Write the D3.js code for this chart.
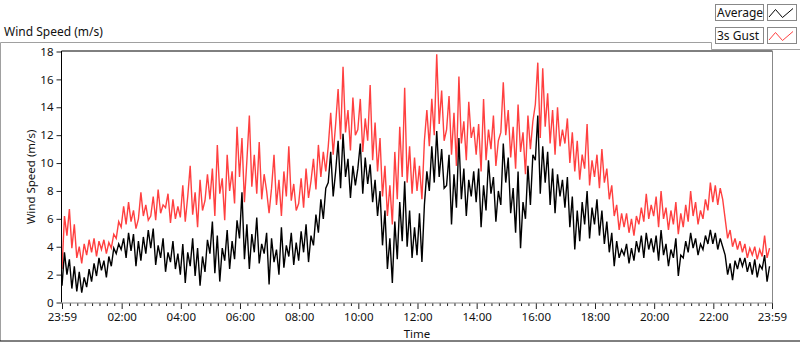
<!DOCTYPE html>
<meta charset="utf-8">
<style>
    body { margin: 0; background: #fff; }
    text { font-family: "Noto Sans", sans-serif; fill: #111; }
    .tick text { font-size: 11.5px; }
    .tick line { stroke: #222; }
    .frame-dark { stroke: #000; }
    .frame-light { stroke: #888; }
</style>
<svg id="chart" width="800" height="342"></svg>
<script src="https://cdnjs.cloudflare.com/ajax/libs/d3/7.8.5/d3.min.js"></script>
<script>

    // 5 minute samples, one row per hour starting 23:59
    var gust = [
        2.4, 6.2, 4.8, 6.7, 3.9, 5.6, 3.2, 4.0, 2.8, 4.2, 3.4, 4.5,
        3.6, 4.6, 3.3, 4.4, 3.8, 4.5, 3.5, 4.3, 3.9, 4.9, 4.6, 5.8,
        5.4, 6.9, 5.6, 7.2, 5.8, 6.6, 5.3, 6.0, 7.9, 6.2, 7.0, 5.9,
        6.2, 7.6, 5.9, 8.1, 6.4, 7.0, 6.8, 7.8, 5.7, 7.4, 6.0, 6.9,
        6.1, 8.4, 5.8, 7.6, 9.8, 6.3, 7.9, 5.4, 8.8, 6.6, 7.3, 9.2,
        7.4, 9.6, 6.2, 11.3, 7.8, 8.9, 5.9, 10.6, 8.0, 9.4, 7.1, 12.6,
        9.0, 11.8, 7.2, 10.2, 13.4, 8.3, 10.6, 7.8, 11.5, 7.4, 9.2, 8.0,
        6.4, 8.2, 10.6, 7.0, 8.8, 6.2, 9.4, 7.6, 11.2, 7.3, 8.5, 6.6,
        7.1, 8.9, 6.8, 9.6, 7.5, 8.7, 10.3, 8.1, 11.3, 9.0, 10.8, 9.4,
        11.2, 13.6, 10.6, 12.8, 15.3, 11.7, 16.9, 12.2, 13.8, 10.9, 14.7, 12.0,
        12.4, 14.6, 10.8, 13.2, 11.6, 15.6, 10.2, 12.9, 9.4, 11.8, 7.6, 9.8,
        6.2, 8.4, 5.6, 10.8, 7.4, 12.6, 9.0, 15.4, 8.6, 11.2, 7.8, 10.4,
        8.0, 9.8, 7.4, 11.6, 13.8, 11.2, 14.6, 12.0, 17.8, 12.8, 15.2, 11.6,
        12.4, 14.8, 10.6, 13.6, 9.8, 16.2, 11.4, 13.0, 10.2, 14.4, 11.8, 12.6,
        10.6, 12.8, 9.4, 14.6, 10.2, 12.4, 11.0, 13.4, 9.8, 11.6, 12.2, 15.8,
        12.0, 13.8, 10.4, 12.6, 9.6, 14.2, 10.8, 12.2, 9.2, 13.4, 11.0, 13.0,
        14.2, 17.2, 11.8, 16.8, 12.6, 15.0, 11.4, 13.8, 10.6, 14.0, 11.2, 12.4,
        11.4, 13.2, 10.0, 12.2, 9.4, 11.6, 8.8, 10.6, 9.6, 12.8, 8.4, 10.2,
        9.0, 10.6, 8.2, 11.0, 8.6, 9.6, 7.4, 8.4, 6.2, 7.0, 5.2, 6.4,
        5.4, 6.4, 5.0, 6.0, 4.8, 6.2, 5.6, 6.8, 5.8, 7.8, 6.0, 7.0,
        6.2, 7.6, 5.4, 8.0, 6.0, 6.8, 5.2, 6.6, 5.6, 7.2, 4.9, 6.4,
        5.4, 7.0, 5.8, 8.0, 6.2, 7.2, 5.6, 6.6, 6.0, 7.4, 6.6, 8.6,
        7.2, 8.4, 7.0, 8.2, 7.4, 6.0, 4.6, 5.2, 4.0, 4.6, 3.8, 4.4,
        3.6, 4.2, 3.2, 3.9, 3.4, 4.0, 3.1, 3.8, 3.3, 4.8, 3.2, 3.9
    ];

    var average = [
        1.2, 3.6, 2.0, 3.1, 1.0, 2.6, 0.8, 2.2, 0.7, 1.8, 1.1, 2.4,
        1.5, 2.8, 1.9, 3.2, 2.3, 3.0, 1.8, 3.3, 2.6, 3.9, 3.5, 4.2,
        3.8, 4.6, 3.2, 5.0, 3.7, 4.9, 2.6, 4.4, 3.0, 4.7, 3.5, 5.2,
        3.9, 5.3, 2.7, 4.1, 3.2, 4.6, 2.2, 3.6, 2.9, 4.4, 2.4, 3.5,
        2.0, 4.2, 1.4, 3.6, 2.6, 4.6, 1.9, 3.9, 1.2, 3.3, 2.2, 4.5,
        3.5, 5.8, 2.1, 4.8, 1.5, 3.9, 3.0, 5.2, 2.4, 4.4, 3.1, 5.9,
        4.6, 7.9, 3.1, 5.6, 2.4, 4.9, 3.6, 6.1, 2.8, 4.2, 3.5, 5.0,
        1.3, 4.6, 2.9, 3.8, 2.0, 5.4, 2.5, 4.1, 3.3, 5.0, 2.7, 4.3,
        3.0, 5.1, 3.6, 5.6, 2.9, 4.8, 4.1, 6.3, 5.0, 7.4, 6.0, 8.2,
        8.6, 10.8, 7.6, 9.4, 11.6, 8.2, 12.1, 9.0, 10.3, 7.5, 9.8, 8.4,
        9.6, 11.4, 7.8, 10.4, 8.5, 9.9, 7.2, 8.8, 6.2, 8.0, 4.1, 6.6,
        2.4, 4.6, 1.4, 5.8, 3.1, 7.2, 4.4, 8.7, 4.0, 6.6, 3.2, 5.4,
        3.4, 6.4, 2.9, 7.0, 9.4, 8.0, 11.2, 8.6, 12.3, 9.0, 11.0, 8.2,
        8.4, 10.6, 5.6, 9.2, 6.8, 11.8, 7.4, 9.6, 6.2, 8.8, 7.6, 9.4,
        7.2, 9.6, 5.4, 8.4, 6.6, 10.2, 7.8, 9.0, 5.8, 8.0, 7.0, 11.4,
        8.6, 10.4, 6.4, 8.2, 5.0, 9.4, 3.9, 7.2, 6.0, 9.8, 7.0, 10.6,
        10.2, 13.4, 7.8, 11.2, 8.6, 10.8, 7.0, 9.6, 6.4, 9.2, 7.6, 8.8,
        6.8, 9.0, 5.4, 7.6, 3.8, 6.6, 4.4, 7.2, 5.6, 8.0, 4.6, 6.8,
        5.6, 7.4, 4.8, 6.6, 4.2, 5.8, 3.6, 5.0, 2.6, 4.4, 3.2, 3.8,
        3.4, 4.2, 2.8, 3.9, 3.0, 4.4, 3.6, 4.8, 3.2, 5.0, 3.8, 4.6,
        3.6, 4.8, 3.0, 5.2, 3.4, 4.2, 2.6, 3.8, 3.2, 4.6, 1.9, 3.4,
        3.2, 4.4, 3.6, 5.0, 3.9, 4.6, 3.4, 4.2, 3.8, 4.8, 4.2, 5.2,
        4.2, 5.0, 3.8, 4.6, 4.0, 3.4, 2.0, 2.8, 1.6, 3.0, 2.4, 3.2,
        2.6, 3.2, 2.2, 2.9, 2.0, 3.1, 1.8, 2.7, 2.4, 3.4, 1.5, 2.6
    ];

    var yTicks = [0, 2, 4, 6, 8, 10, 12, 14, 16, 18];
    var legendNames = ["Average", "3s Gust"];
    var legendColors = ["#000", "#ff4040"];

    var svg = d3.select("#chart");

    var plotLeft = 62, plotRight = 772, plotTop = 51.5, plotBottom = 302.5;

    var start = new Date(2020, 0, 1, 23, 59);
    var end = d3.timeHour.offset(start, 24);
    var stepMin = 5;

    var x = d3.scaleTime().domain([start, end]).range([plotLeft, plotRight]);
    var y = d3.scaleLinear().domain([0, 18]).range([plotBottom, plotTop]);

    // outer panel border
    svg.append("path")
        .attr("d", "M0.5,341 V42.5 H711.5 V49.5 H800")
        .attr("fill", "none")
        .attr("stroke", "#a0a0a0");
    svg.append("line")
        .attr("x1", 0).attr("x2", 800).attr("y1", 341).attr("y2", 341)
        .attr("stroke", "#000");

    svg.append("text")
        .attr("x", 4).attr("y", 36)
        .style("font-size", "12px")
        .text("Wind Speed (m/s)");

    // axes
    var majorTicks = [start]
        .concat(d3.timeHour.every(2).range(d3.timeMinute.offset(start, 61), end))
        .concat([end]);
    var minorTicks = d3.timeMinute.every(15).range(start, end).filter(function(d) {
        return d.getMinutes() !== 0 || d.getHours() % 2 !== 0;
    });

    var xMinor = svg.append("g")
        .attr("transform", "translate(0," + (plotBottom + 0.5) + ")")
        .call(d3.axisBottom(x).tickValues(minorTicks).tickSize(3).tickFormat(""));
    xMinor.select(".domain").remove();

    var xAxis = svg.append("g")
        .attr("transform", "translate(0," + (plotBottom + 0.5) + ")")
        .call(d3.axisBottom(x).tickValues(majorTicks).tickSize(6).tickPadding(4)
            .tickFormat(d3.timeFormat("%H:%M")));
    xAxis.select(".domain").remove();

    var yAxis = svg.append("g")
        .attr("transform", "translate(" + (plotLeft - 0.5) + ",0)")
        .call(d3.axisLeft(y).tickValues(yTicks).tickSize(5).tickPadding(3));
    yAxis.select(".domain").remove();

    svg.selectAll(".tick text").style("font-family", '"Noto Sans", sans-serif').attr("fill", "#111");

    svg.append("text")
        .attr("transform", "translate(35," + ((plotTop + plotBottom) / 2) + ") rotate(-90)")
        .attr("text-anchor", "middle")
        .style("font-size", "11.5px")
        .text("Wind Speed (m/s)");

    svg.append("text")
        .attr("x", (plotLeft + plotRight) / 2).attr("y", 338)
        .attr("text-anchor", "middle")
        .style("font-size", "11.5px")
        .text("Time");

    // series
    function timeAt(i) { return d3.timeMinute.offset(start, i * stepMin); }

    var line = d3.line()
        .x(function(d, i) { return x(timeAt(i)); })
        .y(function(d) { return y(d); });

    svg.append("path")
        .datum(gust)
        .attr("d", line)
        .attr("fill", "none")
        .attr("stroke", "#ff4040")
        .attr("stroke-width", 1.4);

    svg.append("path")
        .datum(average)
        .attr("d", line)
        .attr("fill", "none")
        .attr("stroke", "#000")
        .attr("stroke-width", 1.4);

    // plot frame
    svg.append("path")
        .attr("d", "M" + (plotLeft - 0.5) + "," + plotBottom + " V" + (plotTop - 0.5) + " H" + plotRight)
        .attr("fill", "none").attr("class", "frame-dark");
    svg.append("path")
        .attr("d", "M" + (plotRight + 0.5) + "," + (plotTop - 1) + " V" + (plotBottom + 0.5) + " H" + (plotLeft - 1))
        .attr("fill", "none").attr("class", "frame-light");

    // legend
    var legend = svg.append("g").selectAll("g")
        .data(legendNames)
        .enter().append("g")
        .attr("transform", function(d, i) { return "translate(0," + (i * 23) + ")"; });

    legend.append("rect")
        .attr("x", 715.5).attr("y", 4.5).attr("width", 48).attr("height", 16)
        .attr("fill", "#fff").attr("stroke", "#888");
    legend.append("text")
        .attr("x", 717).attr("y", 17)
        .style("font-size", "12px")
        .text(function(d) { return d; });
    legend.append("rect")
        .attr("x", 767.5).attr("y", 4.5).attr("width", 29).attr("height", 16)
        .attr("fill", "#fff").attr("stroke", "#888");
    legend.append("path")
        .attr("d", "M769,17 L775.5,9.5 L782.5,17.5 L793,8.5")
        .attr("fill", "none")
        .attr("stroke", function(d, i) { return legendColors[i]; });

</script>
